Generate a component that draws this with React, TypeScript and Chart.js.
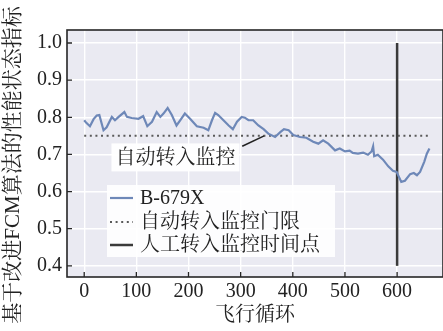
import React, { useEffect, useRef } from "react";
import { Chart, registerables } from "chart.js";

Chart.register(...registerables);

const cycles = [0, 4, 11, 18, 24, 29, 37, 43, 53, 59, 66, 77, 82, 91, 104, 113, 121, 130, 139, 146, 152, 160, 168, 177, 184, 193, 203, 216, 229, 238, 245, 251, 257, 267, 277, 285, 293, 302, 308, 315, 324, 334, 344, 353, 366, 376, 383, 392, 401, 414, 426, 439, 449, 458, 468, 481, 490, 500, 509, 515, 525, 535, 544, 551, 554, 556, 563, 573, 583, 592, 599, 608, 615, 625, 632, 638, 644, 652, 657, 662];
const indexValues = [0.792, 0.785, 0.776, 0.795, 0.805, 0.806, 0.765, 0.773, 0.801, 0.792, 0.801, 0.814, 0.801, 0.798, 0.796, 0.803, 0.776, 0.788, 0.814, 0.801, 0.81, 0.825, 0.806, 0.778, 0.792, 0.81, 0.796, 0.776, 0.772, 0.765, 0.792, 0.812, 0.806, 0.792, 0.778, 0.768, 0.788, 0.801, 0.799, 0.792, 0.792, 0.778, 0.768, 0.756, 0.747, 0.76, 0.768, 0.765, 0.752, 0.747, 0.745, 0.734, 0.729, 0.738, 0.729, 0.711, 0.716, 0.708, 0.71, 0.704, 0.702, 0.705, 0.699, 0.708, 0.722, 0.695, 0.699, 0.686, 0.668, 0.656, 0.653, 0.626, 0.629, 0.647, 0.65, 0.644, 0.653, 0.68, 0.702, 0.716];

const thresholdX = [0, 660];
const thresholdY = [0.75, 0.75];
const manualX = [600, 600];
const manualY = [0.4, 1.0];

const xTicks = [0, 100, 200, 300, 400, 500, 600];
const yTicks = [0.4, 0.5, 0.6, 0.7, 0.8, 0.9, 1.0];

const seriesLabels = ["B-679X", "自动转入监控门限", "人工转入监控时间点"];
const xTitle = "飞行循环";
const yTitle = "基于改进FCM算法的性能状态指标";
const annotationText = "自动转入监控";
const annotationTarget = [345, 0.75];
const annotationLineStart = [303, 0.722];
const annotationTextPos = [175, 0.692];

const FONT = "'Liberation Serif', 'Noto Serif CJK SC', 'Noto Sans CJK SC', serif";
const INK = "#222222";

const decorPlugin = {
  id: "decor",
  beforeDraw(chart: any) {
    const { ctx, chartArea: a } = chart;
    ctx.save();
    ctx.fillStyle = "#EAEAF2";
    ctx.fillRect(a.left, a.top, a.right - a.left, a.bottom - a.top);
    ctx.restore();
  },
  afterDraw(chart: any) {
    const { ctx, chartArea: a } = chart;
    const xs = chart.scales.x;
    const ys = chart.scales.y;
    ctx.save();
    // frame
    ctx.strokeStyle = "#262626";
    ctx.lineWidth = 1.6;
    ctx.strokeRect(a.left, a.top, a.right - a.left, a.bottom - a.top);
    // inward ticks
    ctx.lineWidth = 1.3;
    ctx.beginPath();
    xTicks.forEach((v) => {
      const px = xs.getPixelForValue(v);
      ctx.moveTo(px, a.bottom);
      ctx.lineTo(px, a.bottom - 5);
    });
    yTicks.forEach((v) => {
      const py = ys.getPixelForValue(v);
      ctx.moveTo(a.left, py);
      ctx.lineTo(a.left + 5, py);
    });
    ctx.stroke();

    // annotation
    ctx.font = `20px ${FONT}`;
    const tx = xs.getPixelForValue(annotationTextPos[0]);
    const ty = ys.getPixelForValue(annotationTextPos[1]);
    const tw = ctx.measureText(annotationText).width;
    ctx.fillStyle = "rgba(255,255,255,0.95)";
    ctx.fillRect(tx - tw / 2 - 4, ty - 14, tw + 8, 28);
    ctx.fillStyle = INK;
    ctx.textAlign = "center";
    ctx.textBaseline = "middle";
    ctx.fillText(annotationText, tx, ty + 1);
    ctx.strokeStyle = INK;
    ctx.lineWidth = 1.5;
    ctx.beginPath();
    ctx.moveTo(xs.getPixelForValue(annotationLineStart[0]), ys.getPixelForValue(annotationLineStart[1]));
    ctx.lineTo(xs.getPixelForValue(annotationTarget[0]), ys.getPixelForValue(annotationTarget[1]));
    ctx.stroke();

    // legend
    const bx = a.left + 40;
    const by = a.top + 155;
    ctx.fillStyle = "rgba(255,255,255,0.9)";
    ctx.fillRect(bx, by, 228, 72);
    const rows = [13, 37, 60];
    chart.data.datasets.forEach((ds: any, i: number) => {
      const yy = by + rows[i];
      ctx.strokeStyle = ds.borderColor;
      ctx.lineWidth = ds.borderWidth;
      ctx.setLineDash(ds.borderDash || []);
      ctx.beginPath();
      ctx.moveTo(bx + 3, yy);
      ctx.lineTo(bx + 26, yy);
      ctx.stroke();
      ctx.setLineDash([]);
      ctx.fillStyle = INK;
      ctx.textAlign = "left";
      ctx.textBaseline = "middle";
      ctx.font = `20px ${FONT}`;
      ctx.fillText(ds.label, bx + 33, yy + 1);
    });

    // y title
    ctx.save();
    ctx.translate(13, 165);
    ctx.rotate(-Math.PI / 2);
    ctx.font = `21px ${FONT}`;
    ctx.fillStyle = INK;
    ctx.textAlign = "center";
    ctx.textBaseline = "middle";
    ctx.fillText(yTitle, 0, 0);
    ctx.restore();
    ctx.restore();
  },
};

export default function App() {
  const ref = useRef<HTMLCanvasElement | null>(null);
  useEffect(() => {
    document.body.style.margin = "0";
    const canvas = ref.current!;
    const chart = new Chart(canvas, {
      type: "line",
      data: {
        datasets: [
          {
            label: seriesLabels[0],
            data: cycles.map((c, i) => ({ x: c, y: indexValues[i] })),
            borderColor: "#6E88B8",
            borderWidth: 2.2,
            pointRadius: 0,
            tension: 0,
          },
          {
            label: seriesLabels[1],
            data: thresholdX.map((c, i) => ({ x: c, y: thresholdY[i] })),
            borderColor: "#5a5a5a",
            borderWidth: 2,
            borderDash: [2, 3.6],
            pointRadius: 0,
          },
          {
            label: seriesLabels[2],
            data: manualX.map((c, i) => ({ x: c, y: manualY[i] })),
            borderColor: "#3a3a3a",
            borderWidth: 2.5,
            pointRadius: 0,
          },
        ],
      },
      options: {
        animation: false,
        responsive: false,
        devicePixelRatio: 1,
        layout: { padding: { top: 30, right: 0, left: 0, bottom: 0 } },
        plugins: { legend: { display: false }, tooltip: { enabled: false } },
        scales: {
          x: {
            type: "linear",
            min: -33,
            max: 688,
            afterBuildTicks: (s: any) => {
              s.ticks = xTicks.map((v) => ({ value: v }));
            },
            afterFit: (s: any) => {
              s.height = 54;
            },
            grid: { color: "#ffffff", lineWidth: 1.4, drawTicks: false },
            border: { display: false },
            ticks: {
              font: { family: FONT, size: 20 },
              color: INK,
              padding: 3,
              maxRotation: 0,
              autoSkip: false,
              callback: (v: any) => String(v),
            },
            title: {
              display: true,
              text: xTitle,
              font: { family: FONT, size: 20 },
              color: INK,
              padding: { top: 0, bottom: 3 },
            },
          },
          y: {
            type: "linear",
            min: 0.37,
            max: 1.035,
            afterBuildTicks: (s: any) => {
              s.ticks = yTicks.map((v) => ({ value: v }));
            },
            afterFit: (s: any) => {
              s.width = 67;
            },
            grid: { color: "#ffffff", lineWidth: 1.4, drawTicks: false },
            border: { display: false },
            ticks: {
              font: { family: FONT, size: 20 },
              color: INK,
              padding: 5,
              autoSkip: false,
              callback: (v: any) => Number(v).toFixed(1),
            },
          },
        },
      },
      plugins: [decorPlugin],
    } as any);
    return () => chart.destroy();
  }, []);
  return (
    <div style={{ position: "absolute", left: 0, top: 0, width: 443, height: 331 }}>
      <canvas ref={ref} width={443} height={331} />
    </div>
  );
}
